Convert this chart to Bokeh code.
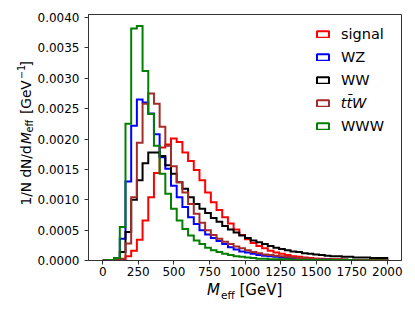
import numpy as np
from bokeh.plotting import figure
from bokeh.layouts import row, column
from bokeh.models import (Range1d, FixedTicker, NumeralTickFormatter, Legend,
                          LegendItem, Label)
from bokeh.embed import file_html
from bokeh.resources import INLINE

# ---------------- data (normalised histograms, 50 bins of 40 GeV) ----------------
bin_edges = np.linspace(0, 2000, 51)

signal = [0, 0, 0, 0.00001, 0.00007, 0.00016, 0.00034, 0.00066, 0.00104, 0.00144,
          0.00186, 0.00191, 0.00201, 0.00195, 0.00178, 0.00164, 0.00149, 0.00132, 0.00112, 0.00096,
          0.00083, 0.00071, 0.00061, 0.00051, 0.00042, 0.00035, 0.00029, 0.00024, 0.0002, 0.00016,
          0.00013, 0.00011, 0.00009, 0.00007, 0.00006, 0.00005, 0.00004, 0.00003, 0.00003, 0.00002,
          0.00002, 0.00002, 0.00001, 0.00001, 0.00001, 0.00001, 0.00001, 0.00001, 0.00001, 0.00001]

wz = [0, 0, 0.00002, 0.00036, 0.0013, 0.00222, 0.00265, 0.0026, 0.00242, 0.00208,
      0.0017, 0.00151, 0.00123, 0.00104, 0.00088, 0.00071, 0.0006, 0.0005, 0.00043, 0.00037,
      0.00032, 0.00027, 0.00022, 0.00018, 0.00015, 0.00013, 0.00011, 0.00009, 0.00008, 0.00007,
      0.00006, 0.00005, 0.00004, 0.00004, 0.00003, 0.00003, 0.00002, 0.00002, 0.00002, 0.00002,
      0.00001, 0.00001, 0.00001, 0.00001, 0.00001, 0.00001, 0.00001, 0.00001, 0.00001, 0.00001]

ww = [0, 0, 0.00003, 0.00014, 0.00047, 0.001, 0.00132, 0.0016, 0.00178, 0.00178,
      0.00172, 0.00157, 0.00143, 0.00129, 0.00118, 0.00104, 0.00093, 0.00085, 0.00078, 0.0007,
      0.00064, 0.00057, 0.00051, 0.00046, 0.00041, 0.00037, 0.00033, 0.0003, 0.00027, 0.00024,
      0.00021, 0.00019, 0.00017, 0.00015, 0.00014, 0.00012, 0.00011, 0.0001, 0.00009, 0.00008,
      0.00007, 0.00007, 0.00006, 0.00006, 0.00005, 0.00005, 0.00005, 0.00004, 0.00004, 0.00004]

ttw = [0, 0, 0.00001, 0.00003, 0.00028, 0.00104, 0.00194, 0.00258, 0.00275, 0.00258,
       0.0022, 0.00189, 0.00155, 0.00129, 0.00112, 0.00093, 0.00077, 0.00062, 0.0005, 0.00042,
       0.00036, 0.00031, 0.00027, 0.00023, 0.0002, 0.00017, 0.00014, 0.00012, 0.0001, 0.00009,
       0.00008, 0.00007, 0.00006, 0.00005, 0.00004, 0.00004, 0.00003, 0.00003, 0.00002, 0.00002,
       0.00002, 0.00002, 0.00002, 0.00001, 0.00001, 0.00001, 0.00001, 0.00001, 0.00001, 0.00001]

www = [0, 0.00001, 0.00004, 0.00055, 0.00225, 0.00382, 0.00386, 0.00312, 0.00241, 0.00189,
       0.00143, 0.0011, 0.00085, 0.00066, 0.00052, 0.00041, 0.00033, 0.00027, 0.00021, 0.00017,
       0.00014, 0.00011, 0.00009, 0.00007, 0.00006, 0.00005, 0.00004, 0.00003, 0.00003, 0.00002,
       0.00002, 0.00002, 0.00002, 0.00001, 0.00001, 0.00001, 0.00001, 0.00001, 0.00001, 0.00001,
       0.00001, 0.00001, 0.00001, 0.00001, 0, 0, 0, 0, 0, 0]

series_names = ["signal", "WZ", "WW", "tt\u0304W", "WWW"]
series_values = [signal, wz, ww, ttw, www]
series_colors = ["#ff0000", "#0000ff", "#000000", "#a52a2a", "#008000"]
series_italic = [False, False, False, True, False]

x_ticks = [0, 250, 500, 750, 1000, 1250, 1500, 1750, 2000]
y_ticks = [0, 0.0005, 0.001, 0.0015, 0.002, 0.0025, 0.003, 0.0035, 0.004]

# ---------------- geometry (window pixels) ----------------
TOTAL_W, TOTAL_H = 407, 304
LEFT_W = 34            # strip holding the y-axis title
MAIN_H = 282           # main plot height; the x-axis title strip lies below
MAIN_W = TOTAL_W - LEFT_W
BOT_H = TOTAL_H - MAIN_H
FRAME_L, FRAME_T, FRAME_R, FRAME_B = 87, 14, 401, 260
X0, X1, Y0, Y1 = -100, 2100, 0, 0.00405
FONT = "DejaVu Sans"


def px_to_data(wx, wy):
    dx = X0 + (wx - FRAME_L) / (FRAME_R - FRAME_L) * (X1 - X0)
    dy = Y0 + (FRAME_B - wy) / (FRAME_B - FRAME_T) * (Y1 - Y0)
    return dx, dy


def bare(width, height, x_range):
    f = figure(width=width, height=height, output_backend="svg",
               toolbar_location=None, x_axis_location=None,
               y_axis_location=None, title=None,
               min_border_left=0, min_border_right=0, min_border_top=0,
               min_border_bottom=0, x_range=x_range,
               y_range=Range1d(0, height))
    f.outline_line_color = None
    f.xgrid.visible = False
    f.ygrid.visible = False
    f.background_fill_color = "white"
    f.border_fill_color = "white"
    return f


# ---------------- main plot ----------------
p = figure(width=MAIN_W, height=MAIN_H, output_backend="svg",
           toolbar_location=None, title=None,
           x_range=Range1d(X0, X1), y_range=Range1d(Y0, Y1),
           min_border_left=FRAME_L - LEFT_W, min_border_right=TOTAL_W - FRAME_R,
           min_border_top=FRAME_T, min_border_bottom=MAIN_H - FRAME_B)
p.background_fill_color = "white"
p.border_fill_color = "white"
p.outline_line_color = "#333333"
p.outline_line_width = 1
p.xgrid.visible = False
p.ygrid.visible = False

for ax in (p.xaxis[0], p.yaxis[0]):
    ax.axis_line_color = "#333333"
    ax.major_tick_line_color = "#333333"
    ax.major_tick_out = 4
    ax.major_tick_in = 0
    ax.minor_tick_out = 0
    ax.minor_tick_in = 0
    ax.major_label_text_font = FONT
    ax.major_label_text_font_size = "12px"
    ax.major_label_text_color = "black"

p.xaxis.ticker = FixedTicker(ticks=x_ticks)
p.yaxis.ticker = FixedTicker(ticks=y_ticks)
p.yaxis.formatter = NumeralTickFormatter(format="0.0000")
p.xaxis.major_label_standoff = 2
p.yaxis.major_label_standoff = 5

# legend geometry (window pixels)
LEG_PAD, LEG_ROW, LEG_SP = 8, 18, 5
LEG_GLYPH_LEFT, LEG_ROW1_CY = 314, 33.5
LEG_STANDOFF, LEG_GW = 11, 15
n_items = len(series_names)
leg_h = 2 * LEG_PAD + n_items * LEG_ROW + (n_items - 1) * LEG_SP
leg_top = LEG_ROW1_CY - LEG_ROW / 2 - LEG_PAD
leg_x = LEG_GLYPH_LEFT - LEG_PAD - FRAME_L
leg_y = FRAME_B - (leg_top + leg_h)

items = []
for i, (name, vals, col) in enumerate(zip(series_names, series_values, series_colors)):
    xs = np.repeat(bin_edges, 2)
    ys = np.concatenate([[0.0], np.repeat(np.asarray(vals, dtype=float), 2), [0.0]])
    p.line(xs, ys, line_color=col, line_width=2, line_join="miter")
    key = p.quad(left=[np.nan], right=[np.nan], top=[np.nan], bottom=[np.nan],
                 fill_color=None, line_color=col, line_width=2)
    if series_italic[i]:
        # italic entry: the legend keeps the key, the text is set in italics
        items.append(LegendItem(label=" ", renderers=[key]))
        tx, ty = px_to_data(LEG_GLYPH_LEFT + LEG_GW + LEG_STANDOFF,
                            LEG_ROW1_CY + i * (LEG_ROW + LEG_SP))
        p.add_layout(Label(x=tx, y=ty, text=name, text_font=FONT,
                           text_font_size="14.5px", text_font_style="italic",
                           text_align="left", text_baseline="middle",
                           text_color="black"))
    else:
        items.append(LegendItem(label=name, renderers=[key]))

legend = Legend(items=items, location=(leg_x, leg_y), margin=0, padding=LEG_PAD,
                spacing=LEG_SP, glyph_width=LEG_GW, glyph_height=8,
                label_height=LEG_ROW, label_width=10, label_standoff=LEG_STANDOFF,
                label_text_font=FONT, label_text_font_size="14.5px",
                label_text_color="black", background_fill_alpha=0,
                border_line_alpha=0)
p.add_layout(legend)

# ---------------- x-axis title strip: M_eff [GeV] ----------------
# this strip's frame is aligned with the main frame, so it shares its x range
bx = bare(MAIN_W, BOT_H, p.x_range)


def xpiece(text, wx, wy, size, style="normal"):
    dx, _ = px_to_data(wx, 0)
    bx.add_layout(Label(x=dx, y=TOTAL_H - wy, text=text, text_font=FONT,
                        text_font_size=size, text_font_style=style,
                        text_color="black"))


# text_baseline "bottom": y is the bottom of the text box
xpiece("M", 206, 298, "15px", "italic")
xpiece("eff", 220, 300.5, "10.5px")
xpiece("[GeV]", 238.5, 298, "15px")

# ---------------- y-axis title strip: 1/N dN/dM_eff [GeV^-1] ----------------
ly = bare(LEFT_W, TOTAL_H, Range1d(0, LEFT_W))


def ypiece(text, wx, wy, size, style="normal"):
    ly.add_layout(Label(x=wx, y=TOTAL_H - wy, text=text, text_font=FONT,
                        text_font_size=size, text_font_style=style,
                        text_align="left", text_baseline="alphabetic",
                        angle=np.pi / 2, text_color="black"))


ypiece("1/N dN/d", 25.5, 205, "13.7px")
ypiece("M", 25.5, 143.5, "13.7px", "italic")
ypiece("eff", 29, 132, "9.6px")
ypiece("[GeV", 25.5, 113.5, "13.7px")
ypiece("\u22121", 20, 78.5, "9.6px")
ypiece("]", 25.5, 66, "13.7px")

page = row(ly, column(p, bx, spacing=0), spacing=0)
open("out.html", "w").write(file_html(page, INLINE))
